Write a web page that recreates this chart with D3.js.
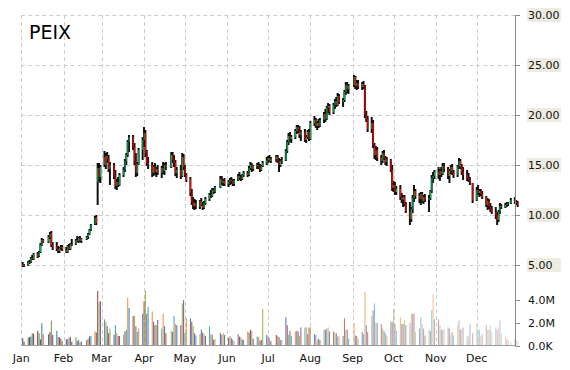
<!DOCTYPE html>
<html><head><meta charset="utf-8">
<script src="https://cdn.jsdelivr.net/npm/d3@7"></script>
<style>body{margin:0;background:#fff}svg{display:block}</style>
</head><body><svg id="c" width="570" height="370"></svg>
<script>
const ticker = "PEIX";
const year = 2014;
const monthLabels = ["Jan","Feb","Mar","Apr","May","Jun","Jul","Aug","Sep","Oct","Nov","Dec"];
const tradingDays = [
 [2,3,6,7,8,9,10,13,14,15,16,17,21,22,23,24,27,28,29,30,31],
 [3,4,5,6,7,10,11,12,13,14,18,19,20,21,24,25,26,27,28],
 [3,4,5,6,7,10,11,12,13,14,17,18,19,20,21,24,25,26,27,28,31],
 [1,2,3,4,7,8,9,10,11,14,15,16,17,21,22,23,24,25,28,29,30],
 [1,2,5,6,7,8,9,12,13,14,15,16,19,20,21,22,23,27,28,29,30],
 [2,3,4,5,6,9,10,11,12,13,16,17,18,19,20,23,24,25,26,27,30],
 [1,2,3,7,8,9,10,11,14,15,16,17,18,21,22,23,24,25,28,29,30,31],
 [1,4,5,6,7,8,11,12,13,14,15,18,19,20,21,22,25,26,27,28,29],
 [2,3,4,5,8,9,10,11,12,15,16,17,18,19,22,23,24,25,26,29,30],
 [1,2,3,6,7,8,9,10,13,14,15,16,17,20,21,22,23,24,27,28,29,30,31],
 [3,4,5,6,7,10,11,12,13,14,17,18,19,20,21,24,25,26,28],
 [1,2,3,4,5,8,9,10,11,12,15,16,17,18,19,22,23,24,26,29,30,31]
];
const openP = [
 5.1,4.9,5.0,5.3,5.3,5.7,5.6,6.1,5.9,6.3,7.0,7.5,7.3,7.8,8.2,7.0,6.9,6.6,6.4,6.7,6.8,
 6.5,6.3,6.9,6.6,7.1,7.1,7.5,7.4,7.7,7.4,7.6,7.8,8.1,8.5,9.1,9.8,13.3,14.7,13.8,
 15.8,15.0,15.9,15.6,14.6,15.0,13.8,12.9,13.3,13.0,14.0,14.5,15.4,16.0,17.3,17.8,16.8,15.4,14.2,15.1,16.5,
 17.5,18.2,16.2,15.2,15.0,14.2,14.8,14.3,14.6,14.2,14.7,14.4,15.0,14.8,16.0,15.5,15.2,14.2,14.5,13.9,15.8,
 14.8,14.0,13.6,12.2,11.3,10.9,11.2,10.8,11.4,11.0,10.7,11.2,11.6,12.0,11.9,12.5,12.3,12.8,13.6,13.2,13.4,
 13.1,13.3,13.5,13.4,13.1,13.5,13.9,13.7,13.6,14.0,14.2,14.0,14.7,15.0,14.6,14.9,15.0,14.8,14.5,14.9,15.2,
 15.5,15.7,15.4,15.6,15.8,15.4,15.0,15.4,15.5,16.4,17.3,17.9,17.6,17.8,18.4,18.8,18.4,18.0,18.3,17.5,17.8,18.3,
 17.6,19.2,19.5,18.9,19.2,18.9,19.5,20.1,19.6,20.7,20.9,20.3,21.0,21.4,21.0,21.9,21.3,21.5,22.3,23.0,22.6,
 23.0,23.8,22.9,23.2,22.8,23.1,22.8,20.0,19.6,18.6,19.2,17.0,16.0,16.5,15.7,15.4,16.2,15.7,15.3,15.5,14.5,
 12.7,13.0,12.3,12.6,11.8,11.5,11.8,11.1,10.4,9.6,10.6,11.7,12.4,11.9,11.6,12.1,11.4,11.8,11.5,11.7,12.4,13.7,13.9,
 14.3,14.0,14.4,14.1,14.9,14.6,13.9,14.4,14.8,14.2,14.0,14.8,15.4,14.8,14.3,14.0,13.7,13.5,13.2,
 11.5,12.5,12.2,12.4,12.1,11.8,11.0,11.4,10.8,10.6,10.3,10.0,9.5,10.3,10.9,10.8,11.0,11.1,11.2,11.5,11.3,11.2
];
const highP = [
 5.3,5.1,5.4,5.5,5.8,6.0,6.2,6.3,6.4,7.2,7.7,7.6,8.0,8.3,8.4,7.3,7.3,6.9,6.8,7.0,7.0,
 6.8,7.0,7.1,7.2,7.6,7.6,7.9,7.8,7.9,7.7,7.9,8.2,8.6,9.1,9.9,10.0,15.2,15.2,15.0,
 16.4,16.2,16.3,16.0,15.3,15.2,14.5,13.6,13.8,14.2,14.8,15.6,16.2,17.5,18.0,18.0,17.2,16.2,15.3,16.7,17.8,
 18.8,18.5,16.5,15.8,15.3,15.0,15.2,14.8,15.0,14.9,15.3,15.2,15.3,16.3,16.3,16.0,15.5,14.8,15.0,16.2,16.1,
 15.0,14.2,13.8,12.6,11.8,11.6,11.5,11.5,11.7,11.3,11.4,11.8,12.2,12.5,12.7,12.7,12.9,13.9,13.9,13.6,13.7,
 13.5,13.7,13.8,13.6,13.6,14.1,14.3,14.0,14.1,14.4,14.4,14.9,15.3,15.2,15.0,15.2,15.3,15.1,15.0,15.4,15.8,
 15.9,16.0,15.8,16.0,16.0,15.7,15.6,15.8,16.6,17.5,18.2,18.3,18.0,18.6,19.0,19.0,18.9,18.5,18.6,18.0,18.5,18.6,
 19.4,19.9,19.7,19.4,19.6,19.7,20.3,20.6,20.9,21.2,21.1,21.2,21.6,21.8,22.2,22.1,21.7,22.5,23.3,23.3,23.1,
 24.0,23.9,23.5,23.5,23.3,23.4,23.0,20.4,19.9,19.8,19.5,17.2,16.9,16.8,16.0,16.4,16.5,15.9,15.8,15.6,15.0,
 13.4,13.3,12.9,13.0,12.2,12.0,12.0,11.3,11.3,10.8,12.0,13.0,12.6,12.2,12.3,12.3,12.0,12.1,12.0,12.5,14.0,14.3,14.5,
 14.8,14.6,14.8,15.2,15.2,14.8,14.6,15.0,15.1,14.5,15.0,15.7,15.6,15.1,14.8,14.5,14.2,13.8,13.2,
 12.8,13.0,12.6,12.6,12.4,11.9,11.7,11.6,11.2,10.9,10.8,10.3,10.5,11.2,11.1,11.2,11.3,11.3,11.7,11.8,11.5,11.4
];
const lowP = [
 4.8,4.8,4.9,5.1,5.2,5.5,5.5,5.7,5.8,6.2,6.9,7.2,7.2,7.6,6.8,6.5,6.4,6.2,6.2,6.5,6.4,
 6.2,6.2,6.5,6.5,6.9,7.0,7.3,7.2,7.3,7.2,7.5,7.6,8.0,8.4,9.0,9.0,11.0,13.3,13.2,
 14.8,14.6,15.2,14.3,13.0,13.6,12.6,12.5,12.8,12.9,13.8,14.3,15.0,15.8,16.3,16.5,15.0,13.8,13.9,15.0,15.5,
 16.8,15.8,14.9,14.6,13.8,13.9,14.0,13.8,14.0,13.7,14.1,14.0,14.5,14.7,15.2,14.8,13.9,13.7,13.6,13.8,14.5,
 13.8,13.3,11.9,11.0,10.6,10.5,10.6,10.6,10.9,10.5,10.6,11.0,11.4,11.7,11.8,12.1,12.2,12.7,13.0,12.9,12.9,
 12.8,13.0,13.1,12.9,12.9,13.4,13.5,13.4,13.5,13.8,13.8,13.9,14.5,14.3,14.4,14.6,14.6,14.3,14.4,14.8,15.0,
 15.2,15.3,15.2,15.3,15.2,14.3,14.8,15.1,15.4,16.2,17.0,17.3,17.2,17.6,18.1,18.2,17.7,17.4,17.3,17.2,17.6,17.4,
 17.5,18.9,18.7,18.5,18.7,18.8,19.2,19.3,19.5,20.2,20.0,20.1,20.6,20.8,20.9,21.1,20.8,21.3,22.0,22.2,22.1,
 22.8,22.6,22.5,22.6,22.5,22.6,19.7,19.3,18.3,18.2,16.7,15.6,15.5,15.4,15.0,15.2,15.5,15.0,14.9,14.3,12.4,
 12.3,12.0,12.0,11.5,11.2,10.8,10.9,10.2,9.0,9.3,10.2,11.3,11.6,11.2,11.0,11.2,11.1,11.3,10.3,11.5,12.2,13.2,13.6,
 13.6,13.4,13.8,14.0,14.3,13.6,13.2,14.1,14.0,13.7,13.8,14.6,14.6,14.0,13.5,13.4,13.3,13.0,11.2,
 11.4,12.0,11.8,11.9,11.6,10.8,10.5,10.6,10.3,10.1,9.6,9.0,9.3,10.1,10.6,10.7,10.8,10.9,11.1,11.1,11.0,10.8
];
const closeP = [
 4.9,5.0,5.3,5.2,5.7,5.6,6.1,5.8,6.3,7.0,7.5,7.3,7.8,8.1,7.0,6.8,6.6,6.4,6.7,6.8,6.5,
 6.3,6.9,6.6,7.1,7.0,7.5,7.4,7.7,7.4,7.6,7.8,8.1,8.5,9.0,9.7,9.2,14.7,13.8,14.8,
 15.0,15.9,15.6,14.6,15.0,13.8,12.9,13.3,13.0,14.0,14.5,15.4,16.0,17.3,17.8,16.8,15.4,14.2,15.1,16.5,17.5,
 18.2,16.2,15.2,15.0,14.2,14.8,14.3,14.6,14.2,14.7,14.4,15.0,14.8,16.0,15.5,15.2,14.2,14.5,13.9,15.8,14.8,
 14.0,13.5,12.2,11.3,10.9,11.2,10.8,11.4,11.0,10.7,11.2,11.6,12.0,11.9,12.5,12.3,12.8,13.6,13.2,13.4,13.1,
 13.3,13.5,13.4,13.1,13.5,13.9,13.7,13.6,14.0,14.2,14.0,14.7,15.0,14.6,14.9,15.0,14.8,14.5,14.9,15.2,15.5,
 15.7,15.4,15.6,15.8,15.4,15.0,15.4,15.5,16.4,17.3,17.9,17.6,17.8,18.4,18.8,18.4,18.0,18.3,17.5,17.8,18.3,17.6,
 19.2,19.5,18.9,19.2,18.9,19.5,20.1,19.6,20.7,20.9,20.3,21.0,21.4,21.0,21.9,21.3,21.5,22.3,23.0,22.6,22.9,
 23.8,22.9,23.2,22.8,23.1,22.8,20.0,19.6,18.6,19.2,17.0,16.0,16.5,15.7,15.4,16.2,15.7,15.3,15.5,14.5,12.7,
 13.0,12.3,12.6,11.8,11.5,11.8,11.1,10.4,9.6,10.6,11.7,12.4,11.9,11.6,12.1,11.4,11.8,11.5,11.7,12.4,13.7,13.9,14.3,
 14.0,14.4,14.1,14.9,14.6,13.9,14.4,14.8,14.2,14.0,14.8,15.4,14.8,14.3,14.0,13.7,13.5,13.2,11.5,
 12.5,12.2,12.4,12.1,11.8,11.0,11.4,10.8,10.6,10.3,10.0,9.5,10.3,10.9,10.8,11.0,11.1,11.2,11.5,11.3,11.2,11.0
];
// volume in millions of shares
const volumeM = [
 0.65,0.35,0.7,0.75,0.8,1.1,1.05,1.3,1.1,0.55,1.95,1.0,1.0,1.2,2.2,0.95,1.3,0.75,0.75,0.6,0.4,
 0.55,0.6,0.7,0.75,0.35,0.75,0.4,0.5,0.3,0.35,0.5,0.6,0.8,0.85,1.25,1.15,4.8,3.8,3.9,
 2.3,2.1,1.7,1.1,1.5,0.95,1.8,1.1,0.85,0.85,0.95,1.25,1.4,4.2,3.3,2.6,2.6,1.7,1.2,1.5,2.8,
 3.9,4.8,2.8,3.4,3.0,2.1,1.8,1.8,2.25,1.5,2.8,1.7,1.1,1.3,1.2,2.6,1.9,1.8,1.8,3.7,4.0,
 1.1,2.4,2.4,2.1,1.7,1.1,0.9,1.0,1.4,1.15,1.0,0.85,1.7,1.0,0.95,0.5,0.6,1.1,0.95,1.1,0.95,
 0.7,0.85,0.65,0.55,0.4,1.0,0.8,0.75,0.55,0.5,1.25,1.15,1.4,1.3,0.6,0.8,0.75,0.45,0.5,3.2,0.95,
 0.8,0.65,0.4,0.95,0.85,0.75,0.5,0.5,2.5,1.8,0.95,1.3,0.85,1.25,1.3,1.25,0.85,1.6,1.6,1.6,1.0,1.6,
 1.6,1.0,0.95,0.5,0.6,0.5,1.4,1.4,1.5,1.6,1.25,1.25,1.1,1.1,0.8,0.85,0.85,2.4,1.4,1.4,0.6,
 2.0,0.9,0.85,0.6,1.2,1.0,4.7,1.8,1.2,2.6,3.1,3.7,2.0,2.0,1.9,1.5,1.3,1.1,0.9,2.1,2.1,
 3.2,1.9,1.3,2.5,1.9,1.9,2.2,1.8,2.0,2.8,2.8,2.8,1.2,1.5,2.5,1.9,1.5,0.9,1.4,1.3,3.1,4.5,2.3,
 2.3,1.8,1.4,1.4,1.4,1.6,1.5,1.0,1.2,0.9,1.8,2.2,1.4,1.5,1.6,0.8,0.9,1.9,1.1,
 1.9,1.4,1.4,0.9,1.0,1.8,1.4,1.4,1.8,1.2,1.6,1.4,1.6,2.2,1.1,0.85,0.6,0.45,0.3,0.6,0.5,0.4
];
const priceTicks = [5,10,15,20,25,30];
const volumeTicks = [0,2,4];
const volumePalette = ["#4F81BD","#C0504D","#9BBB59","#8064A2","#4BACC6","#F79646"];

const dates = [];
tradingDays.forEach((days, m) => days.forEach(d => dates.push(new Date(Date.UTC(year, m, d)))));
const n = Math.min(dates.length, openP.length, highP.length, lowP.length, closeP.length, volumeM.length);
const data = d3.range(n).map(i => ({date: dates[i], o: openP[i], h: highP[i], l: lowP[i], c: closeP[i], v: volumeM[i]}));

const svg = d3.select("#c");
const left = 21.3, right = 515.7;
const x = d3.scaleUtc()
  .domain([new Date(Date.UTC(year,0,1)), new Date(Date.UTC(year,11,1))])
  .range([21.3, 476.7]);
const y = d3.scaleLinear().domain([5,30]).range([265,15]);
const yv = d3.scaleLinear().domain([0,4]).range([345.7,300]);
const font = "'DejaVu Sans', Verdana, sans-serif";

// grid
const months = monthLabels.map((m,i) => new Date(Date.UTC(year,i,1)));
const grid = svg.append("g").attr("stroke","#cccccc").attr("stroke-width",1).attr("stroke-dasharray","4,3").attr("fill","none");
grid.selectAll("line.v").data(months).join("line")
  .attr("x1", d => Math.round(x(d)) + 0.5).attr("x2", d => Math.round(x(d)) + 0.5)
  .attr("y1", 15).attr("y2", 345.5);
grid.selectAll("line.h").data(priceTicks).join("line")
  .attr("x1", left).attr("x2", right)
  .attr("y1", d => Math.round(y(d)) + 0.5).attr("y2", d => Math.round(y(d)) + 0.5);

// volume bars
const shade = (i) => {
  const base = volumePalette[i % volumePalette.length];
  const t = i / (n - 1);
  if (t < 0.2) return d3.interpolateRgb(d3.color(base).darker(0.8), base)(t / 0.2);
  if (t > 0.5) return d3.interpolateRgb(base, "#ffffff")((t - 0.5) / 0.5 * 0.65);
  return base;
};
svg.append("g").selectAll("rect").data(data).join("rect")
  .attr("x", d => x(d.date) - 0.5)
  .attr("width", 1.1)
  .attr("y", d => yv(d.v))
  .attr("height", d => yv(0) - yv(d.v))
  .attr("fill", (d,i) => shade(i));

// baseline
svg.append("line").attr("x1", left).attr("x2", right).attr("y1", 345.5).attr("y2", 345.5)
  .attr("stroke", "#999").attr("stroke-width", 1);

// candles
const cg = svg.append("g");
cg.selectAll("rect.w").data(data).join("rect")
  .attr("x", d => x(d.date) - 1).attr("width", 2)
  .attr("y", d => y(d.h)).attr("height", d => Math.max(1, y(d.l) - y(d.h)))
  .attr("fill", "#111");
cg.selectAll("rect.b").data(data).join("rect")
  .attr("x", d => x(d.date) - 0.4).attr("width", 1.1)
  .attr("y", d => y(Math.max(d.o, d.c)))
  .attr("height", d => Math.max(1, Math.abs(y(d.o) - y(d.c))))
  .attr("fill", d => d.c >= d.o ? "#00b050" : "#ff0000");

// right axis
svg.append("line").attr("x1", 515.5).attr("x2", 515.5).attr("y1", 15).attr("y2", 346)
  .attr("stroke", "#8c8c8c").attr("stroke-width", 1);
const pt = svg.append("g");
pt.selectAll("line").data(priceTicks).join("line")
  .attr("x1", 515.5).attr("x2", 520).attr("y1", d => Math.round(y(d)) + 0.5).attr("y2", d => Math.round(y(d)) + 0.5)
  .attr("stroke", "#8c8c8c");
pt.selectAll("rect").data(priceTicks).join("rect")
  .attr("x", 527).attr("width", 34).attr("y", d => y(d) - 7).attr("height", 14)
  .attr("fill", "#eeece1");
pt.selectAll("text").data(priceTicks).join("text")
  .attr("x", 528).attr("y", d => y(d) + 4)
  .attr("font-family", font).attr("font-size", 11).attr("fill", "#111")
  .text(d => d3.format(".2f")(d));
const vt = svg.append("g");
vt.selectAll("line").data(volumeTicks).join("line")
  .attr("x1", 515.5).attr("x2", 520).attr("y1", d => Math.round(yv(d)) + 0.5).attr("y2", d => Math.round(yv(d)) + 0.5)
  .attr("stroke", "#8c8c8c");
vt.selectAll("text").data(volumeTicks).join("text")
  .attr("x", 528).attr("y", d => yv(d) + 4)
  .attr("font-family", font).attr("font-size", 11).attr("fill", "#111")
  .text(d => d === 0 ? "0.0K" : d.toFixed(1) + "M");

// month labels
svg.append("g").selectAll("text").data(months).join("text")
  .attr("x", d => x(d)).attr("y", 362).attr("text-anchor", "middle")
  .attr("font-family", font).attr("font-size", 11).attr("fill", "#111")
  .text((d,i) => monthLabels[i]);

// title
svg.append("text").attr("x", 29).attr("y", 39)
  .attr("font-family", font).attr("font-size", 19).attr("fill", "#000")
  .text(ticker);
</script>
</body></html>
